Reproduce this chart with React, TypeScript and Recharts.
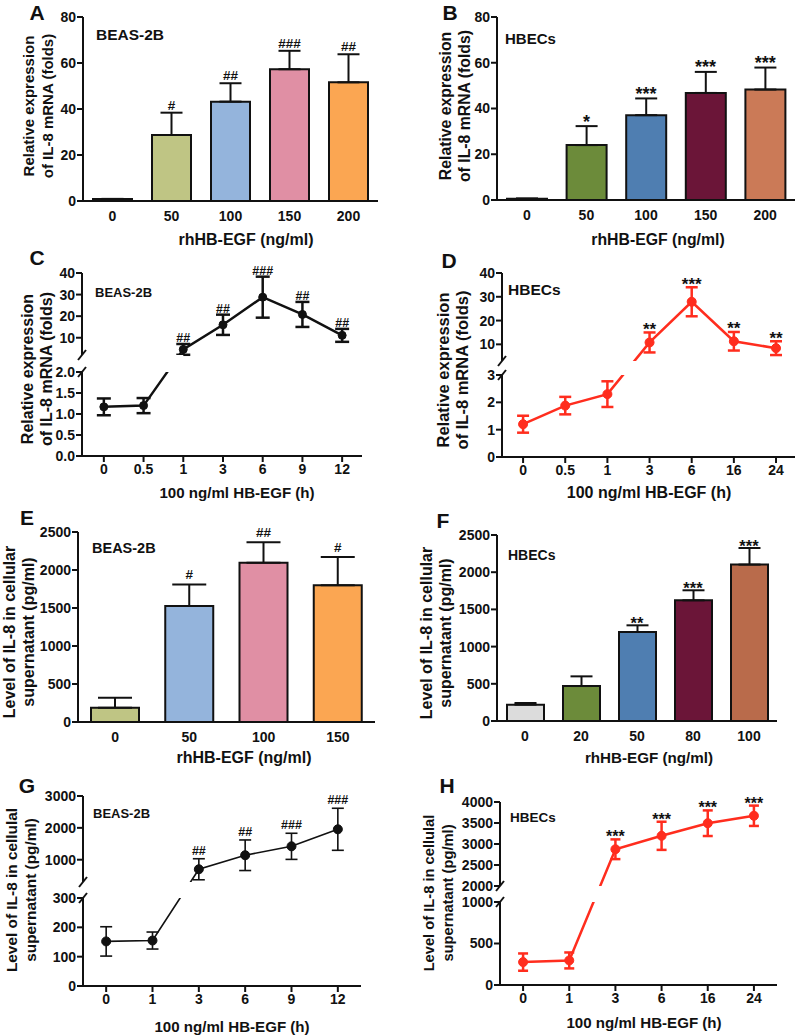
import React from "react";
import {
  ComposedChart,
  Bar,
  Line,
  XAxis,
  YAxis,
  ErrorBar,
  Cell,
  LabelList,
  ReferenceLine,
  ReferenceArea,
} from "recharts";

// ---- panel A: BEAS-2B mRNA vs dose
const aCats = ["0", "50", "100", "150", "200"];
const aVals = [0.9, 28.7, 43.2, 57.3, 51.6];
const aErrs = [0, 9.7, 8, 8, 12.2];
const aSig = ["", "#", "##", "###", "##"];
const aColors = ["#d8d8d8", "#bfc584", "#94b4dc", "#e08fa4", "#fba652"];

// ---- panel B: HBECs mRNA vs dose
const bCats = ["0", "50", "100", "150", "200"];
const bVals = [0.6, 24, 37.1, 46.8, 48.3];
const bErrs = [0, 8.3, 7.3, 9.2, 9.6];
const bSig = ["", "*", "***", "***", "***"];
const bColors = ["#d8d8d8", "#6c8b3a", "#4f7eb1", "#6b1538", "#cb7a57"];

// ---- panel C: BEAS-2B mRNA vs time
const cCats = ["0", "0.5", "1", "3", "6", "9", "12"];
const cVals = [1.17, 1.2, 4.6, 16, 28.8, 20.8, 11.1];
const cSd = [0.2, 0.18, 2.5, 4.7, 9.5, 5.8, 3];
const cSig = ["", "", "##", "##", "###", "##", "##"];

// ---- panel D: HBECs mRNA vs time
const dCats = ["0", "0.5", "1", "3", "6", "16", "24"];
const dVals = [1.2, 1.88, 2.3, 10.8, 27.9, 11.3, 8.4];
const dSd = [0.31, 0.32, 0.47, 4.2, 6.1, 3.9, 2.9];
const dSig = ["", "", "", "**", "***", "**", "**"];

// ---- panel E: BEAS-2B protein vs dose
const eCats = ["0", "50", "100", "150"];
const eVals = [188, 1526, 2096, 1800];
const eErrs = [132, 284, 268, 372];
const eSig = ["", "#", "##", "#"];
const eColors = ["#bfc584", "#94b4dc", "#e08fa4", "#fba652"];

// ---- panel F: HBECs protein vs dose
const fCats = ["0", "20", "50", "80", "100"];
const fVals = [220, 470, 1196, 1622, 2102];
const fErrs = [22, 130, 90, 135, 223];
const fSig = ["", "", "**", "***", "***"];
const fColors = ["#dcdcdc", "#6c8b3a", "#4f7eb1", "#6b1538", "#b96b4b"];

// ---- panel G: BEAS-2B protein vs time
const gCats = ["0", "1", "3", "6", "9", "12"];
const gVals = [152, 155, 700, 1140, 1420, 1955];
const gSd = [50, 29, 330, 480, 410, 660];
const gSig = ["", "", "##", "##", "###", "###"];

// ---- panel H: HBECs protein vs time
const hCats = ["0", "1", "3", "6", "16", "24"];
const hVals = [276, 296, 2875, 3195, 3495, 3672];
const hSd = [104, 96, 235, 335, 305, 242];
const hSig = ["", "", "***", "***", "***", "***"];

const FONT = '"Liberation Sans", Arial, Helvetica, sans-serif';
const INK = "#111";
const RED = "#ff2d1e";
const axisLine = { stroke: INK, strokeWidth: 2 };
const tickLine = { stroke: INK, strokeWidth: 2 };
const tickText = { fill: INK, fontSize: 14, fontWeight: 700 };

const YW = 60;
const MT = 14;
const MR = 2;
const XH = 34;

function BarPanel({ cats, vals, errs, sigs, colors, yTicks, plot, barSize, cap, sigSize, sigOffset }: any) {
  const [l, t, r, b] = plot;
  const data = cats.map((c: string, i: number) => ({
    cat: c,
    v: vals[i],
    e: [0, errs[i]],
    top: vals[i] + errs[i],
    sig: sigs[i],
  }));
  const w = YW + (r - l) + MR;
  const h = MT + (b - t) + XH;
  return (
    <div style={{ position: "absolute", left: l - YW, top: t - MT }}>
      <ComposedChart width={w} height={h} data={data} margin={{ top: MT, right: MR, left: 0, bottom: 0 }}>
        <XAxis
          dataKey="cat"
          height={XH}
          interval={0}
          tickLine={false}
          tickSize={6}
          tickMargin={4}
          axisLine={axisLine}
          tick={tickText}
        />
        <YAxis
          width={YW}
          domain={[0, yTicks[yTicks.length - 1]]}
          ticks={yTicks}
          allowDataOverflow
          axisLine={axisLine}
          tickLine={tickLine}
          tickSize={6}
          tickMargin={1}
          tick={tickText}
        />
        <Bar dataKey="v" barSize={barSize} stroke={INK} strokeWidth={2} isAnimationActive={false}>
          {cats.map((c: string, i: number) => (
            <Cell key={c} fill={colors[i]} />
          ))}
          <ErrorBar dataKey="e" width={cap} stroke={INK} strokeWidth={2} direction="y" />
        </Bar>
        <Line dataKey="top" stroke="none" dot={false} activeDot={false} isAnimationActive={false}>
          <LabelList dataKey="sig" position="top" offset={sigOffset} fill={INK} fontSize={sigSize} fontWeight={700} />
        </Line>
      </ComposedChart>
    </div>
  );
}

function BrokenPanel({ cats, vals, sds, sigs, color, seg, plot, padL, padR, lineW, dotR, cap, sigSize, sigOffset, jump }: any) {
  const [l, t, r] = plot;
  const tf = (v: number) =>
    v <= seg.lowMax
      ? (v / seg.lowMax) * seg.lowPx
      : seg.lowPx + seg.gapPx + ((v - seg.upMin) / (seg.upMax - seg.upMin)) * seg.upPx;
  const total = seg.lowPx + seg.gapPx + seg.upPx;
  const data = cats.map((c: string, i: number) => {
    const y = tf(vals[i]);
    return {
      x: i,
      y,
      e: [y - tf(vals[i] - sds[i]), tf(vals[i] + sds[i]) - y],
      top: tf(vals[i] + sds[i]),
      sig: sigs[i],
    };
  });
  const ticks = [...seg.lowTicks, ...seg.upTicks].map((v: number) => ({ pos: tf(v), label: seg.fmt(v) }));
  const fmtTick = (p: number) => {
    const k = ticks.find((tk) => Math.abs(tk.pos - p) < 0.01);
    return k ? k.label : "";
  };
  const xmin = -padL;
  const xmax = cats.length - 1 + padR;
  const dx = (4 * (xmax - xmin)) / (r - l);
  const w = YW + (r - l) + MR;
  const h = MT + total + XH;
  const brk = (y0: number) => [
    { x: xmin - dx, y: y0 - 5 },
    { x: xmin + dx, y: y0 + 5 },
  ];
  return (
    <div style={{ position: "absolute", left: l - YW, top: t - MT }}>
      <ComposedChart width={w} height={h} data={data} margin={{ top: MT, right: MR, left: 0, bottom: 0 }}>
        <XAxis
          type="number"
          dataKey="x"
          domain={[xmin, xmax]}
          allowDataOverflow
          ticks={cats.map((_: string, i: number) => i)}
          tickFormatter={(i: number) => cats[i]}
          interval={0}
          height={XH}
          axisLine={axisLine}
          tickLine={tickLine}
          tickSize={6}
          tickMargin={2}
          tick={tickText}
        />
        <YAxis
          type="number"
          width={YW}
          domain={[0, total]}
          allowDataOverflow
          ticks={ticks.map((tk) => tk.pos)}
          tickFormatter={fmtTick}
          interval={0}
          axisLine={false}
          tickLine={tickLine}
          tickSize={6}
          tickMargin={1}
          tick={tickText}
        />
        <Line
          dataKey="y"
          stroke={color}
          strokeWidth={lineW}
          dot={{ r: dotR, fill: color, stroke: color, strokeWidth: 1 }}
          activeDot={false}
          isAnimationActive={false}
        >
          <ErrorBar dataKey="e" width={cap} stroke={color} strokeWidth={lineW} direction="y" />
        </Line>
        <ReferenceArea
          x1={jump}
          x2={jump + 1}
          y1={seg.lowPx}
          y2={seg.lowPx + seg.gapPx}
          fill="#fff"
          fillOpacity={1}
          stroke="none"
          ifOverflow="hidden"
          zIndex={450}
        />
        <ReferenceLine segment={[{ x: xmin, y: 0 }, { x: xmin, y: seg.lowPx }]} stroke={INK} strokeWidth={2} ifOverflow="visible" />
        <ReferenceLine
          segment={[{ x: xmin, y: seg.lowPx + seg.gapPx }, { x: xmin, y: total }]}
          stroke={INK}
          strokeWidth={2}
          ifOverflow="visible"
        />
        <ReferenceLine segment={brk(seg.lowPx)} stroke={INK} strokeWidth={2} ifOverflow="visible" />
        <ReferenceLine segment={brk(seg.lowPx + seg.gapPx)} stroke={INK} strokeWidth={2} ifOverflow="visible" />
        <Line dataKey="top" stroke="none" dot={false} activeDot={false} isAnimationActive={false}>
          <LabelList dataKey="sig" position="top" offset={sigOffset} fill={INK} fontSize={sigSize} fontWeight={700} />
        </Line>
      </ComposedChart>
    </div>
  );
}

function Txt({ x, y, size, children, left }: any) {
  return (
    <div
      style={{
        position: "absolute",
        left: x,
        top: y,
        fontSize: size,
        lineHeight: 1,
        whiteSpace: "nowrap",
        transform: left ? "translate(0,-50%)" : "translate(-50%,-50%)",
      }}
    >
      {children}
    </div>
  );
}

function YTitle({ x, y, size, lines }: any) {
  return (
    <div
      style={{
        position: "absolute",
        left: x,
        top: y,
        fontSize: size,
        lineHeight: "19px",
        whiteSpace: "nowrap",
        textAlign: "center",
        transform: "translate(-50%,-50%) rotate(-90deg)",
      }}
    >
      {lines.map((s: string) => (
        <div key={s}>{s}</div>
      ))}
    </div>
  );
}

const mrnaTitle = ["Relative expression", "of IL-8 mRNA (folds)"];
const protTitle = ["Level of IL-8 in cellular", "supernatant (pg/ml)"];
const protTitle2 = ["Level of IL-8 in cellulal", "supernatant (pg/ml)"];

export default function App() {
  return (
    <div
      style={{
        position: "absolute",
        left: 0,
        top: 0,
        width: 797,
        height: 1035,
        overflow: "hidden",
        background: "#fff",
        fontFamily: FONT,
        fontWeight: 700,
        color: INK,
      }}
    >
      <BarPanel cats={aCats} vals={aVals} errs={aErrs} sigs={aSig} colors={aColors} yTicks={[0, 20, 40, 60, 80]}
        plot={[83, 17, 378, 201]} barSize={39} cap={11} sigSize={13.5} sigOffset={3} />
      <BarPanel cats={bCats} vals={bVals} errs={bErrs} sigs={bSig} colors={bColors} yTicks={[0, 20, 40, 60, 80]}
        plot={[497, 17, 795, 200]} barSize={40} cap={11} sigSize={18} sigOffset={-1.5} />
      <BrokenPanel cats={cCats} vals={cVals} sds={cSd} sigs={cSig} color={INK} plot={[82, 273, 362]} padL={0.55} padR={0.5}
        lineW={2.5} dotR={4} cap={7} sigSize={12.5} sigOffset={2} jump={1}
        seg={{ lowMax: 2, lowPx: 84, gapPx: 17, upMin: 2, upMax: 40, upPx: 82, lowTicks: [0, 0.5, 1, 1.5, 2], upTicks: [10, 20, 30, 40],
          fmt: (v: number) => (v <= 2 ? v.toFixed(1) : String(v)) }} />
      <BrokenPanel cats={dCats} vals={dVals} sds={dSd} sigs={dSig} color={RED} plot={[502, 273, 795]} padL={0.5} padR={0.45}
        lineW={2.5} dotR={4.5} cap={6} sigSize={17} sigOffset={-2.5} jump={2}
        seg={{ lowMax: 3, lowPx: 82, gapPx: 14, upMin: 3, upMax: 40, upPx: 88, lowTicks: [0, 1, 2, 3], upTicks: [10, 20, 30, 40],
          fmt: (v: number) => String(v) }} />
      <BarPanel cats={eCats} vals={eVals} errs={eErrs} sigs={eSig} colors={eColors} yTicks={[0, 500, 1000, 1500, 2000, 2500]}
        plot={[78, 532, 375, 722]} barSize={48} cap={17} sigSize={13.5} sigOffset={5} />
      <BarPanel cats={fCats} vals={fVals} errs={fErrs} sigs={fSig} colors={fColors} yTicks={[0, 500, 1000, 1500, 2000, 2500]}
        plot={[497, 535, 777, 721]} barSize={37} cap={11} sigSize={16.5} sigOffset={-4} />
      <BrokenPanel cats={gCats} vals={gVals} sds={gSd} sigs={gSig} color={INK} plot={[83, 796, 361]} padL={0.5} padR={0.5}
        lineW={1.6} dotR={4.5} cap={6} sigSize={12.5} sigOffset={4} jump={1}
        seg={{ lowMax: 300, lowPx: 88, gapPx: 16, upMin: 300, upMax: 3000, upPx: 86, lowTicks: [0, 100, 200, 300], upTicks: [1000, 2000, 3000],
          fmt: (v: number) => String(v) }} />
      <BrokenPanel cats={hCats} vals={hVals} sds={hSd} sigs={hSig} color={RED} plot={[500, 802, 777]} padL={0.5} padR={0.5}
        lineW={2.5} dotR={4.5} cap={5} sigSize={16} sigOffset={-3} jump={1}
        seg={{ lowMax: 1000, lowPx: 83, gapPx: 16, upMin: 2000, upMax: 4000, upPx: 84, lowTicks: [0, 500, 1000], upTicks: [2000, 2500, 3000, 3500, 4000],
          fmt: (v: number) => String(v) }} />

      <Txt x={37} y={11.5} size={21}>A</Txt>
      <Txt x={450} y={11.5} size={21}>B</Txt>
      <Txt x={37} y={257} size={21}>C</Txt>
      <Txt x={449} y={260} size={21}>D</Txt>
      <Txt x={27} y={517} size={21}>E</Txt>
      <Txt x={443} y={520} size={21}>F</Txt>
      <Txt x={27} y={785} size={21}>G</Txt>
      <Txt x={447} y={785} size={21}>H</Txt>

      <Txt x={96} y={35} size={15.5} left>BEAS-2B</Txt>
      <Txt x={505} y={38} size={15} left>HBECs</Txt>
      <Txt x={95} y={292} size={13} left>BEAS-2B</Txt>
      <Txt x={508} y={290} size={15.5} left>HBECs</Txt>
      <Txt x={92} y={548} size={14.5} left>BEAS-2B</Txt>
      <Txt x={508} y={555} size={14} left>HBECs</Txt>
      <Txt x={93} y={813} size={13} left>BEAS-2B</Txt>
      <Txt x={510} y={818} size={13.5} left>HBECs</Txt>

      <YTitle x={38} y={106} size={15} lines={mrnaTitle} />
      <YTitle x={455} y={106} size={15.8} lines={mrnaTitle} />
      <YTitle x={37} y={369} size={16} lines={mrnaTitle} />
      <YTitle x={453} y={370} size={16.5} lines={mrnaTitle} />
      <YTitle x={19} y={632} size={16} lines={protTitle} />
      <YTitle x={436} y={633} size={16} lines={protTitle} />
      <YTitle x={21} y={890} size={15.4} lines={protTitle2} />
      <YTitle x={439} y={893} size={14.7} lines={protTitle2} />

      <Txt x={246} y={240} size={16}>rhHB-EGF (ng/ml)</Txt>
      <Txt x={658} y={240} size={15.8}>rhHB-EGF (ng/ml)</Txt>
      <Txt x={237} y={493} size={15.1}>100 ng/ml HB-EGF (h)</Txt>
      <Txt x={649} y={493} size={16}>100 ng/ml HB-EGF (h)</Txt>
      <Txt x={244} y={758} size={16}>rhHB-EGF (ng/ml)</Txt>
      <Txt x={649} y={758} size={15.2}>rhHB-EGF (ng/ml)</Txt>
      <Txt x={232} y={1027} size={15.1}>100 ng/ml HB-EGF (h)</Txt>
      <Txt x={644} y={1023} size={15.1}>100 ng/ml HB-EGF (h)</Txt>
    </div>
  );
}
